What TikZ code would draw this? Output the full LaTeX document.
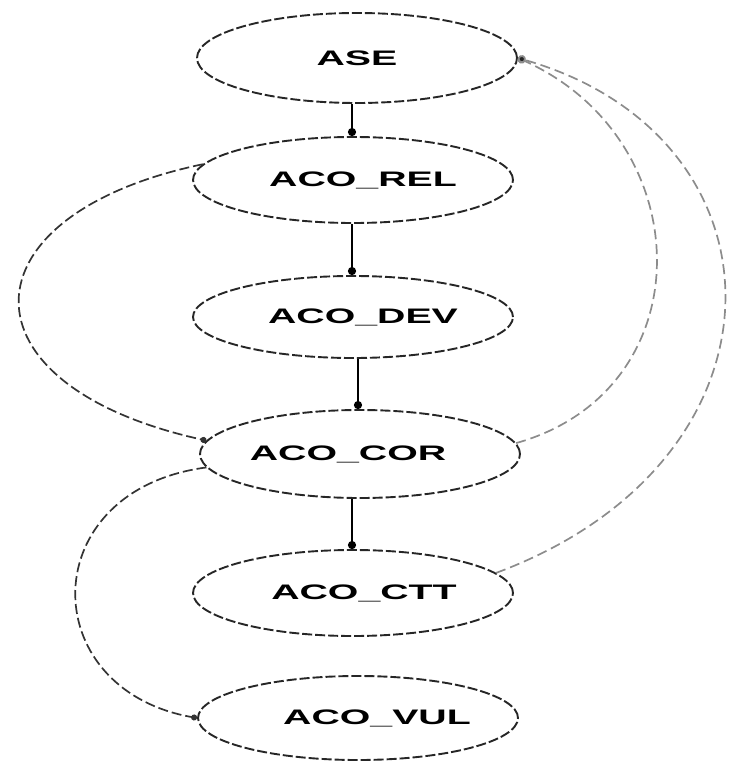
\documentclass[tikz,border=0pt]{standalone}
\usepackage{fontspec}
\setmainfont{Liberation Sans}
\usetikzlibrary{shapes.geometric,arrows.meta}
% optional argument: twice the horizontal offset of the label
\newcommand{\statelabel}[2][0pt]{\hspace*{#1}\scalebox{1.87}[1]{\bfseries #2}}
\tikzset{
  state/.style={ellipse, draw=black!85, line width=1.9pt,
    dash pattern=on 10pt off 3pt, inner sep=0pt,
    minimum width=320pt, minimum height=86pt,
    font=\fontsize{21}{23}\selectfont},
  flow/.style={draw=black, line width=2.6pt, -{Circle[length=8pt]}},
  loopback/.style={draw=black!80, line width=1.7pt,
    dash pattern=on 10pt off 4pt, -{Circle[length=6pt]}},
  feedback/.style={draw=black!45, line width=1.7pt,
    dash pattern=on 10pt off 5pt, -{Circle[length=8pt,fill=black!85]}}
}
\begin{document}
\begin{tikzpicture}[x=1pt,y=-1pt]
  \useasboundingbox (0,0) rectangle (731,767);

  \node[state, minimum height=90pt] (ase) at (357,58)  {\statelabel{ASE}};
  \node[state] (rel) at (353,180) {\statelabel[20pt]{ACO\_REL}};
  \node[state, minimum height=82pt] (dev) at (353,317) {\statelabel[20pt]{ACO\_DEV}};
  \node[state, minimum height=88pt] (cor) at (360,454) {\statelabel[-24pt]{ACO\_COR}};
  \node[state] (ctt) at (353,593) {\statelabel[22pt]{ACO\_CTT}};
  \node[state, minimum height=84pt] (vul) at (358,718) {\statelabel[38pt]{ACO\_VUL}};

  % main chain, straight down from each state
  \coordinate (t1) at (352,0);
  \coordinate (t2) at (358,0);
  \draw[flow] (t1 |- ase.south) -- (t1 |- rel.north);
  \draw[flow] (t1 |- rel.south) -- (t1 |- dev.north);
  \draw[flow] (t2 |- dev.south) -- (t2 |- cor.north);
  \draw[flow] (t1 |- cor.south) -- (t1 |- ctt.north);

  % loops on the left
  \draw[loopback] (rel.174) .. controls (-40,215) and (-45,385) .. (cor.175);
  \draw[loopback] (cor.185) .. controls (34,490) and (34,689) .. (vul.180);

  % feedback to ASE on the right
  \draw[feedback] (cor.4) .. controls (705,390) and (700,140) .. (ase.0);
  \draw[feedback] (ctt.8) .. controls (800,460) and (794,137) .. (ase.0);
\end{tikzpicture}
\end{document}
